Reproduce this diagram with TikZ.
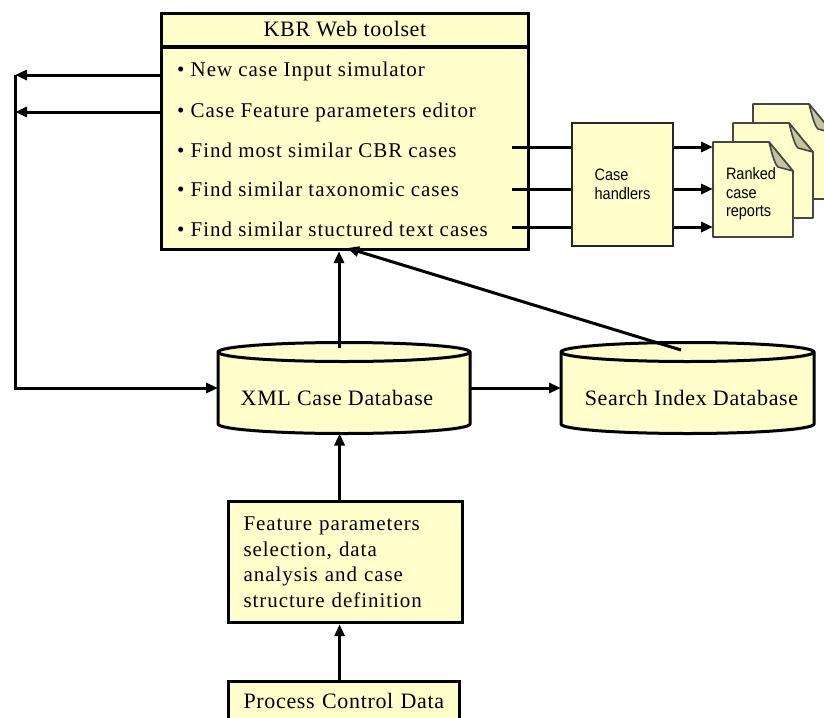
\documentclass[tikz,border=0pt]{standalone}
\usepackage{fontspec}
\setmainfont{Liberation Serif}
\newfontfamily\itemfont[LetterSpace=4.5]{Liberation Serif}
\newfontfamily\labelfont[LetterSpace=3]{Liberation Serif}
\newfontfamily\smallsans[FakeStretch=0.88]{Liberation Sans}
\usetikzlibrary{arrows.meta,calc}
\definecolor{paper}{RGB}{255,255,204}
\definecolor{foldcol}{RGB}{196,196,160}
\definecolor{docedge}{RGB}{70,70,70}

% one report sheet with a folded top-right corner; #1,#2 = top-left corner
\newcommand\reportpage[2]{%
  \draw[docline, fill=paper] (#1,#2) -- ++(56,0) -- ++(24,29) -- ++(0,66) -- ++(-80,0) -- cycle;
  \draw[docline, fill=foldcol] (#1+56,#2) .. controls (#1+59,#2+11) and (#1+61,#2+21) .. (#1+65,#2+25) -- (#1+80,#2+29) -- cycle;
}

\begin{document}
\begin{tikzpicture}[x=1pt,y=-1pt,
  box/.style={draw=black, fill=paper, line width=3.2pt, inner sep=0pt},
  db/.style={draw=black, fill=paper, line width=3pt},
  dbline/.style={draw=black, line width=3pt},
  docline/.style={draw=docedge, line width=1.6pt, line join=round},
  link/.style={line width=3pt},
  arr/.style={line width=3pt, -{Triangle[length=12pt,width=10pt]}},
  itemtext/.style={anchor=base west, inner sep=0pt, font=\itemfont\fontsize{21}{24}\selectfont},
  dblabel/.style={anchor=base, inner sep=0pt, font=\labelfont\fontsize{22}{26}\selectfont},
  hidden/.style={inner sep=0pt, outer sep=0pt}
]
\useasboundingbox (0,0) rectangle (824,717);
\clip (0,0) rectangle (824,717);

% ---- KBR Web toolset ----
\node[box, anchor=north west, minimum width=367, minimum height=236] (kbr) at (160,12) {};
\draw[line width=3.2pt] (kbr.west |- 0,47) -- (kbr.east |- 0,47);
\node[dblabel] (title) at (345,37) {KBR Web toolset};
\node[itemtext] (i1) at (177,77) {• New case Input simulator};
\node[itemtext] (i2) at (177,117) {• Case Feature parameters editor};
\node[itemtext] (i3) at (177,157) {• Find most similar CBR cases};
\node[itemtext] (i4) at (177,196) {• Find similar taxonomic cases};
\node[itemtext] (i5) at (177,236) {• Find similar stuctured text cases};

% ---- case handlers and report stack ----
\node[draw=black!85, fill=paper, line width=1.8pt, minimum width=101, minimum height=123,
      align=left, font=\smallsans\fontsize{16.5}{19.5}\selectfont] (case) at (622.5,184.5) {Case\\handlers};
\reportpage{753}{104}
\reportpage{733}{123}
\reportpage{713}{142}
\node[hidden, anchor=north west, minimum width=80, minimum height=95] (rep) at (713,142) {};
\node[hidden, anchor=north west, align=left, font=\smallsans\fontsize{16.5}{18.5}\selectfont] (reptext) at (726,168) {Ranked\\case\\reports};

% ---- databases ----
\draw[db] (218,352) -- (218,424) arc[start angle=180,end angle=360,x radius=126pt,y radius=9.5pt]
  -- (470,352) arc[start angle=0,end angle=180,x radius=126pt,y radius=9.5pt] -- cycle;
\draw[dbline] (218,352) arc[start angle=180,end angle=360,x radius=126pt,y radius=9.5pt];
\node[hidden, minimum width=252, minimum height=91] (xmldb) at (344,388) {};
\node[dblabel] (xmllabel) at (337,405) {XML Case Database};

\draw[db] (561,352) -- (561,424) arc[start angle=180,end angle=360,x radius=126.5pt,y radius=9.5pt]
  -- (814,352) arc[start angle=0,end angle=180,x radius=126.5pt,y radius=9.5pt] -- cycle;
\draw[dbline] (561,352) arc[start angle=180,end angle=360,x radius=126.5pt,y radius=9.5pt];
\node[hidden, minimum width=253, minimum height=91] (sdb) at (687.5,388) {};
\node[dblabel] (slabel) at (691.5,405.5) {Search Index Database};

% ---- lower boxes ----
\node[box, anchor=north west, text width=204, inner xsep=15, minimum height=121,
      align=left, font=\itemfont\fontsize{21}{25.7}\selectfont] (feat) at (227,500)
      {Feature parameters\\selection, data\\analysis and case\\structure definition};
\node[box, anchor=north west, text width=201, inner xsep=15, inner ysep=12,
      text height=15, text depth=40, align=left,
      font=\labelfont\fontsize{22}{25}\selectfont] (proc) at (227,680) {Process Control Data};

% ---- connectors ----
\coordinate (l1) at (15,75);
\coordinate (l2) at (15,112);
\draw[arr] (kbr.west |- l1) -- (l1);
\draw[arr] (kbr.west |- l2) -- (l2);
\draw[arr] (l1) |- (xmldb.west);

\coordinate (o1) at (512,147);
\coordinate (o2) at (512,189);
\coordinate (o3) at (512,227);
\foreach \o in {o1,o2,o3}{
  \draw[link] (\o) -- (\o -| case.west);
  \draw[arr] (\o -| case.east) -- (\o -| rep.west);
}

\coordinate (xtop) at (339,348);
\coordinate (stop) at (681,350);
\coordinate (kin) at (347,248);
\draw[arr] (xtop) -- (xtop |- kbr.south);
\draw[arr] (stop) -- (kin);
\draw[arr] (xmldb.east) -- (sdb.west);

\draw[arr] ([xshift=-6pt]feat.north) -- ([xshift=-6pt]feat.north |- xmldb.south);
\draw[arr] ([xshift=-6pt]feat.south |- proc.north) -- ([xshift=-6pt]feat.south);
\end{tikzpicture}
\end{document}
